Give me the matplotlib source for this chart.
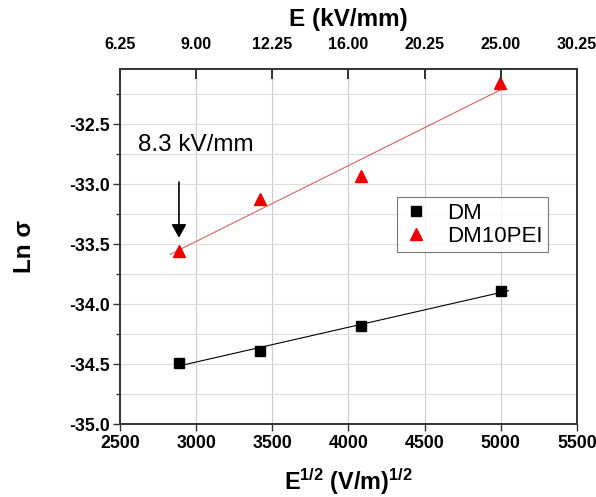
import numpy as np
import matplotlib.pyplot as plt
from matplotlib.ticker import MultipleLocator, FixedLocator

plt.rcParams['font.family'] = ['Liberation Sans', 'DejaVu Sans']
plt.rcParams['font.weight'] = 'bold'
plt.rcParams['axes.labelweight'] = 'bold'
plt.rcParams['mathtext.fontset'] = 'custom'
plt.rcParams['mathtext.rm'] = 'Liberation Sans:bold'
plt.rcParams['mathtext.bf'] = 'Liberation Sans:bold'

# data
dm_x = [2887, 3420, 4082, 5000]
dm_y = [-34.49, -34.39, -34.18, -33.89]
pei_x = [2887, 3420, 4082, 4995]
pei_y = [-33.555, -33.125, -32.93, -32.16]
# extent of the fitted lines
dm_fit_x = [2887, 5050]
pei_fit_x = [2830, 4995]

xticks = [2500, 3000, 3500, 4000, 4500, 5000, 5500]

fig = plt.figure(figsize=(5.96, 4.97), dpi=100)
ax = fig.add_axes([120 / 596, 1 - 424 / 497, 457 / 596, 355 / 497])

# fit lines
for xs, ys, fx, c in [(dm_x, dm_y, dm_fit_x, 'black'), (pei_x, pei_y, pei_fit_x, '#e06060')]:
    p = np.polyfit(xs, ys, 1)
    fx = np.array(fx)
    ax.plot(fx, np.polyval(p, fx), color=c, lw=0.8, zorder=2)

ax.plot(dm_x, dm_y, 's', color='black', ms=6.5, ls='none', label='DM', zorder=3)
ax.plot(pei_x, pei_y, '^', color='#ee0000', ms=9, ls='none', label='DM10PEI', zorder=3)

ax.set_xlim(2500, 5500)
ax.set_ylim(-35.0, -32.04)
ax.xaxis.set_major_locator(FixedLocator(xticks))
ax.yaxis.set_major_locator(MultipleLocator(0.5))
ax.yaxis.set_minor_locator(MultipleLocator(0.25))
ax.yaxis.set_major_formatter(plt.FuncFormatter(lambda v, p: '%.1f' % v))

ax.grid(True, which='major', axis='x', color='#cccccc', lw=0.8)
ax.grid(True, which='both', axis='y', color='#dddddd', lw=0.8)
ax.set_axisbelow(True)

ax.tick_params(axis='both', which='major', labelsize=12.8, length=5, width=1, color='#333333')
ax.tick_params(axis='x', which='major', pad=3)
ax.tick_params(axis='y', which='major', pad=2)
ax.tick_params(axis='y', which='minor', length=3, width=1, color='#333333')
for s in ax.spines.values():
    s.set_linewidth(1.2)
    s.set_color('#333333')

ax.set_xlabel(r'E$^{\mathbf{1/2}}$ (V/m)$^{\mathbf{1/2}}$', fontsize=16.8, labelpad=10)
ax.set_ylabel('Ln σ', fontsize=17.5, labelpad=24)

# top axis: field in kV/mm = (x/1000)^2
top = ax.twiny()
top.set_xlim(ax.get_xlim())
top.set_xticks(xticks)
top.set_xticklabels(['%.2f' % ((v / 1000.0) ** 2) for v in xticks])
top.tick_params(axis='x', which='major', direction='in', length=7, width=1.3,
                color='#222222', labelsize=11.5, pad=12)
for s in top.spines.values():
    s.set_linewidth(1.2)
    s.set_color('#333333')
top.set_xlabel('E (kV/mm)', fontsize=17.5, labelpad=8)

ax.annotate('', xy=(2887, -33.47), xytext=(2887, -32.96),
            arrowprops=dict(arrowstyle='-|>,head_width=0.45,head_length=0.8', color='black', lw=1.2))
ax.text(2620, -32.72, '8.3 kV/mm', fontsize=17.5, fontweight='normal')

leg = ax.legend(loc='upper left', bbox_to_anchor=(277 / 457, (424 - 197) / 355),
                prop={'size': 16, 'weight': 'normal'},
                frameon=True, fancybox=False, edgecolor='#555555', handlelength=1.2,
                handletextpad=0.8, borderpad=0.25, labelspacing=0.1, numpoints=1,
                borderaxespad=0)
leg.get_frame().set_linewidth(0.8)

fig.savefig('out.png', dpi=100)
